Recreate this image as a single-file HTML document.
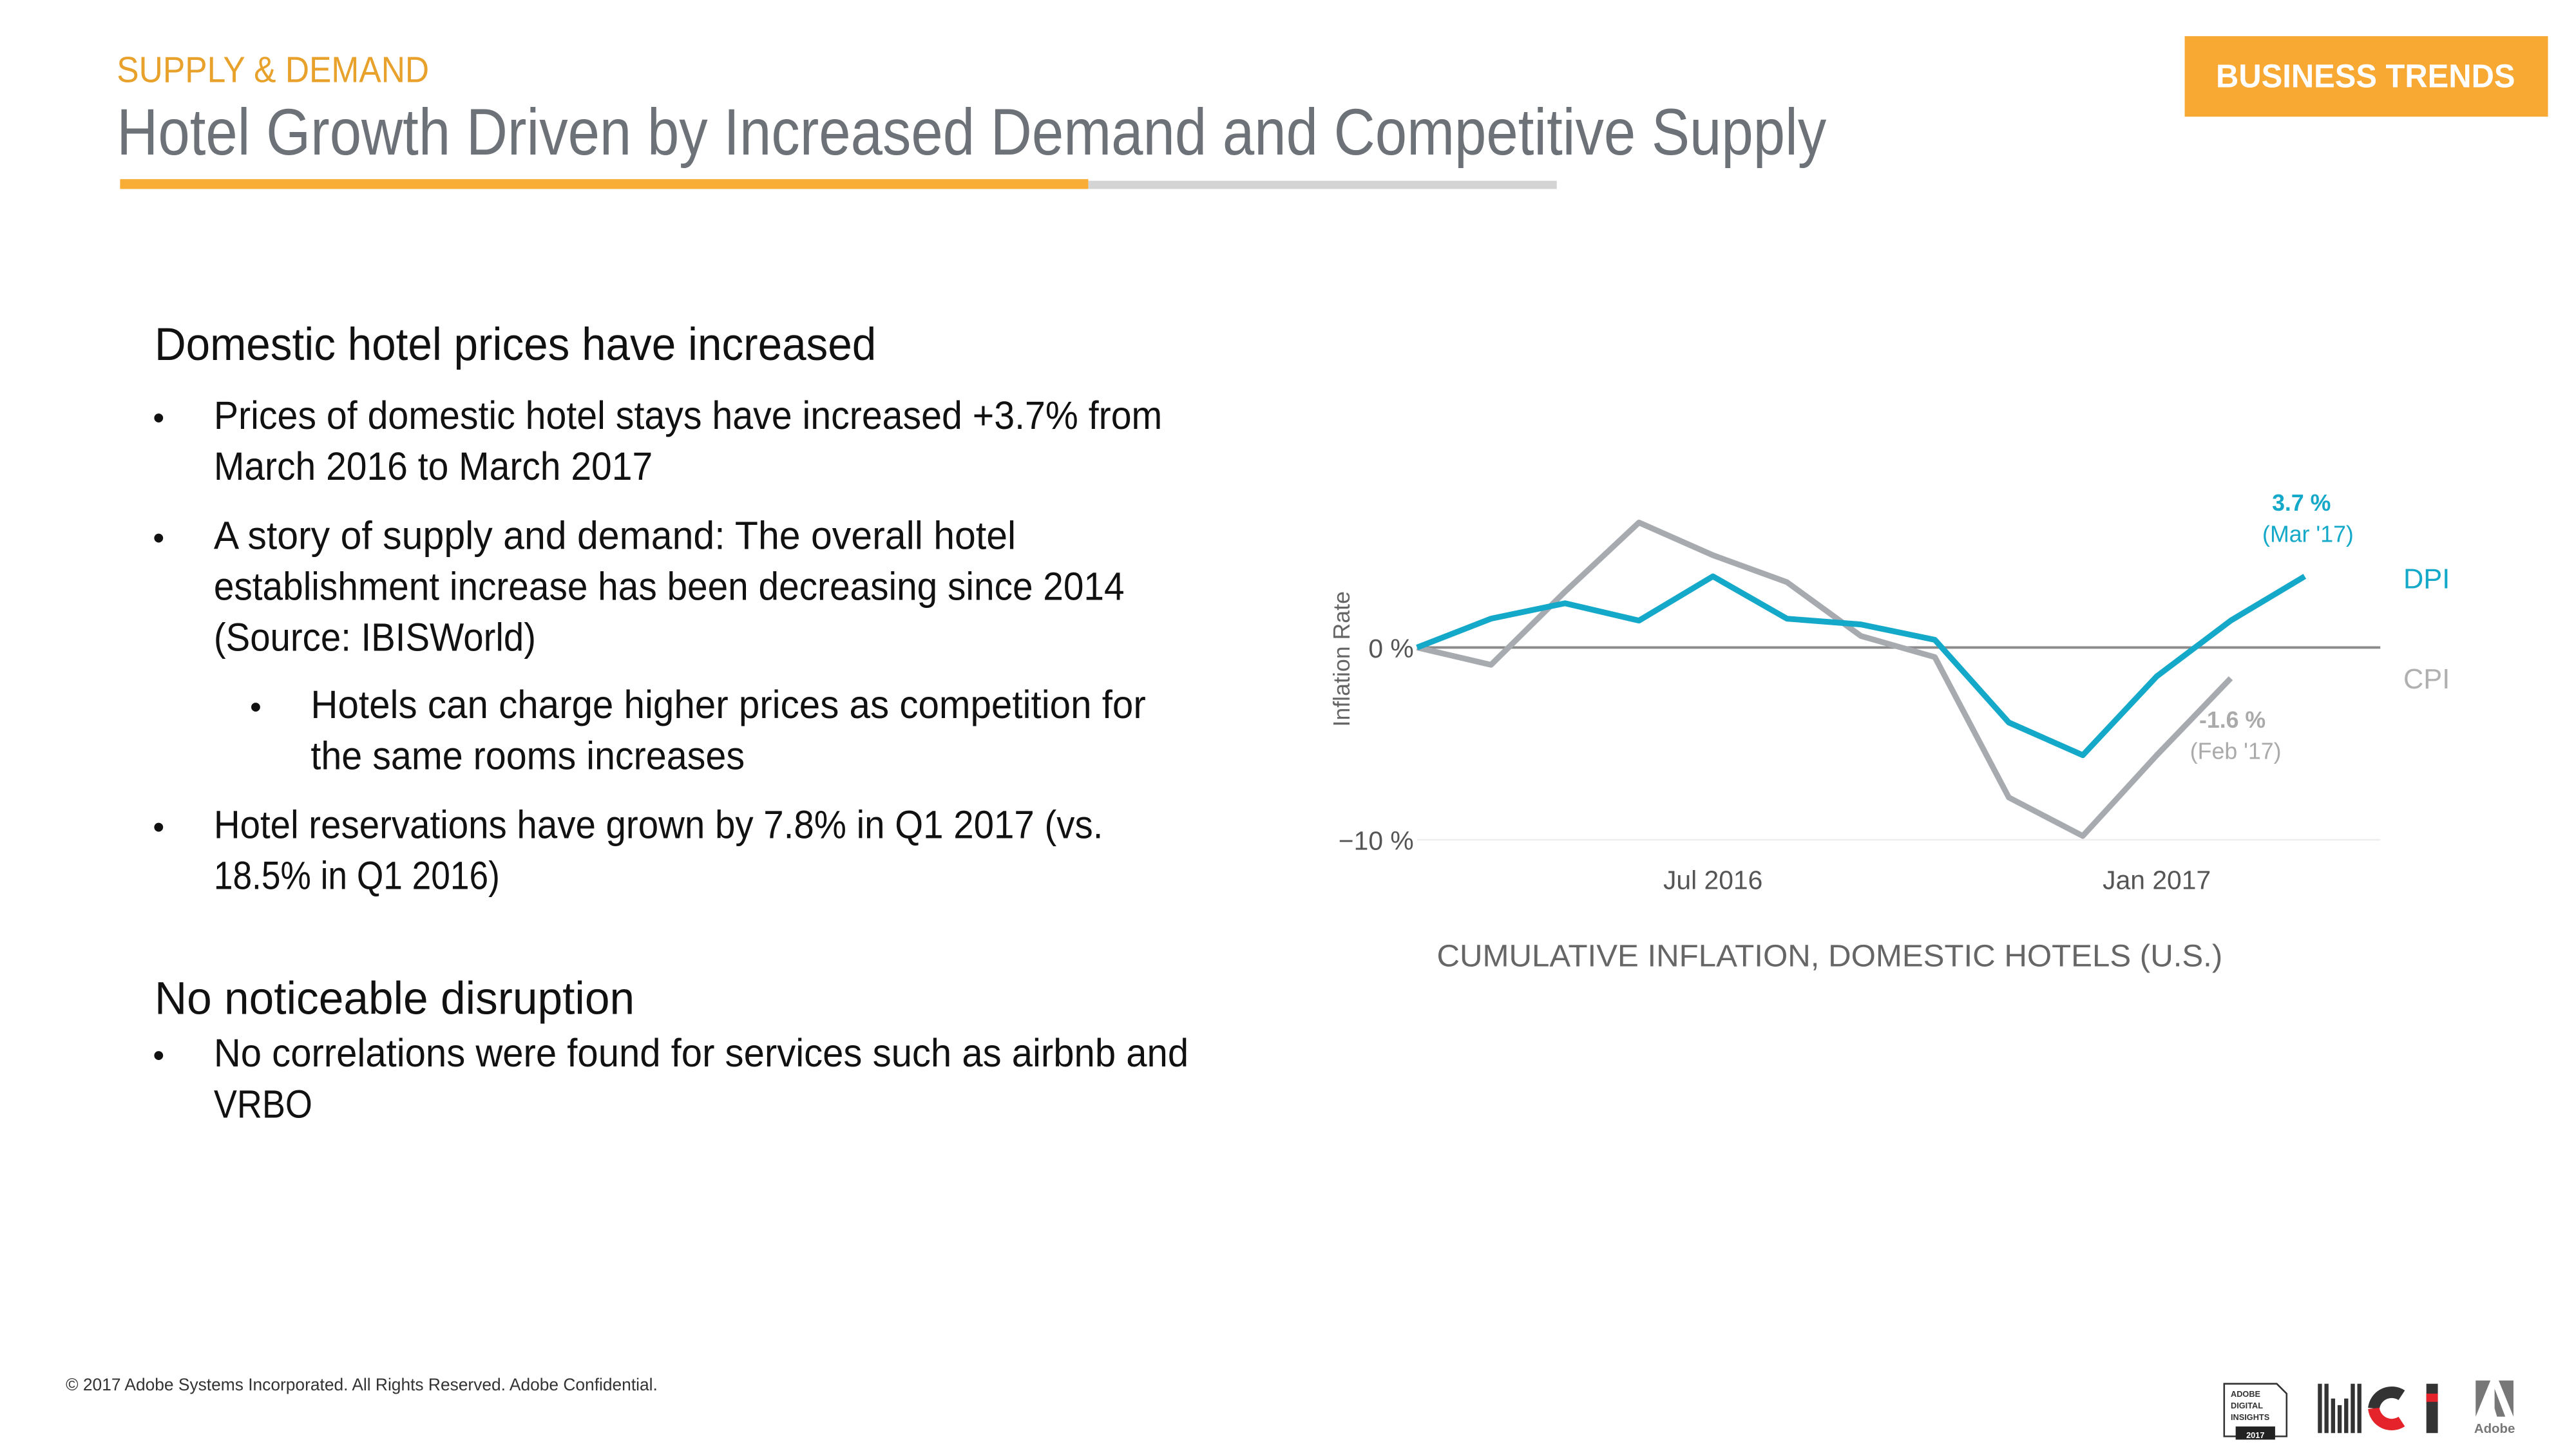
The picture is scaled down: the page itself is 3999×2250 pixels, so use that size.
<!DOCTYPE html>
<html><head><meta charset="utf-8"><style>
html,body{margin:0;padding:0;background:#fff;overflow:hidden}
svg{display:block}
</style></head><body>
<svg id="page" width="3999" height="2250" viewBox="0 0 1567 881.7" xmlns="http://www.w3.org/2000/svg" font-family="Liberation Sans, sans-serif">
<g>
<text x="71" y="50" font-size="22" fill="#e8a12a" textLength="190" lengthAdjust="spacingAndGlyphs">SUPPLY &amp; DEMAND</text>
<text x="71" y="94" font-size="40" fill="#6d7278" textLength="1040" lengthAdjust="spacingAndGlyphs">Hotel Growth Driven by Increased Demand and Competitive Supply</text>
<rect x="73" y="109" width="589" height="6" fill="#f7ad36"/>
<rect x="662" y="110" width="285" height="5" fill="#d4d4d4"/>
<rect x="1329" y="22" width="221" height="49" fill="#f7a934"/>
<text x="1439" y="53" font-size="20" font-weight="bold" fill="#fff" text-anchor="middle" textLength="182" lengthAdjust="spacingAndGlyphs">BUSINESS TRENDS</text>
</g>
<g fill="#111" font-size="24">
<text x="94" y="219" font-size="28" textLength="439" lengthAdjust="spacingAndGlyphs">Domestic hotel prices have increased</text>
<text x="93" y="261" font-size="20">•</text>
<text x="130" y="261" textLength="577" lengthAdjust="spacingAndGlyphs">Prices of domestic hotel stays have increased +3.7% from</text>
<text x="130" y="292" textLength="267" lengthAdjust="spacingAndGlyphs">March 2016 to March 2017</text>
<text x="93" y="334" font-size="20">•</text>
<text x="130" y="334" textLength="488" lengthAdjust="spacingAndGlyphs">A story of supply and demand: The overall hotel</text>
<text x="130" y="365" textLength="554" lengthAdjust="spacingAndGlyphs">establishment increase has been decreasing since 2014</text>
<text x="130" y="396" textLength="196" lengthAdjust="spacingAndGlyphs">(Source: IBISWorld)</text>
<text x="152" y="437" font-size="20">•</text>
<text x="189" y="437" textLength="508" lengthAdjust="spacingAndGlyphs">Hotels can charge higher prices as competition for</text>
<text x="189" y="468" textLength="264" lengthAdjust="spacingAndGlyphs">the same rooms increases</text>
<text x="93" y="510" font-size="20">•</text>
<text x="130" y="510" textLength="541" lengthAdjust="spacingAndGlyphs">Hotel reservations have grown by 7.8% in Q1 2017 (vs.</text>
<text x="130" y="541" textLength="174" lengthAdjust="spacingAndGlyphs">18.5% in Q1 2016)</text>
<text x="94" y="617" font-size="28" textLength="292" lengthAdjust="spacingAndGlyphs">No noticeable disruption</text>
<text x="93" y="649" font-size="20">•</text>
<text x="130" y="649" textLength="593" lengthAdjust="spacingAndGlyphs">No correlations were found for services such as airbnb and</text>
<text x="130" y="680" textLength="60" lengthAdjust="spacingAndGlyphs">VRBO</text>
</g>
<g id="chart"></g>
<text x="40" y="846" font-size="10.5" fill="#333" textLength="360" lengthAdjust="spacingAndGlyphs">© 2017 Adobe Systems Incorporated.  All Rights Reserved.  Adobe Confidential.</text>
<g>
<g>
<path d="M1353 842 H1385 L1391 848 V874 H1353 Z" fill="none" stroke="#333" stroke-width="1"/>
<text x="1357" y="850" font-size="5" font-weight="bold" fill="#333">ADOBE</text>
<text x="1357" y="857" font-size="5" font-weight="bold" fill="#333">DIGITAL</text>
<text x="1357" y="864" font-size="5" font-weight="bold" fill="#333">INSIGHTS</text>
<rect x="1360" y="868" width="24" height="8" fill="#222"/>
<text x="1372" y="875" font-size="5" font-weight="bold" fill="#fff" text-anchor="middle">2017</text>
</g>
<g>
<rect x="1410" y="842" width="2.5" height="30" fill="#333"/><rect x="1414" y="842" width="2.5" height="30" fill="#333"/>
<rect x="1418" y="851" width="2.5" height="21" fill="#333"/><rect x="1422" y="855" width="2.5" height="17" fill="#333"/>
<rect x="1426" y="851" width="2.5" height="21" fill="#333"/><rect x="1430" y="842" width="2.5" height="30" fill="#333"/>
<rect x="1434" y="842" width="2.5" height="30" fill="#333"/>
<path d="M1461 849 A11 11 0 0 0 1444 857" fill="none" stroke="#333" stroke-width="7"/>
<path d="M1444 857 A11 11 0 0 0 1461 865" fill="none" stroke="#e5232a" stroke-width="7"/>
<rect x="1476" y="842" width="7" height="30" fill="#333"/><rect x="1476" y="848" width="7" height="5" fill="#e5232a"/>
</g>
<g>
<path d="M1506 840 H1529 V862 L1520 840 H1515 L1506 862 Z" fill="#777"/>
<path d="M1517.5 845 L1524 862 H1519 L1517.5 857 Z" fill="#777"/>
<text x="1517.5" y="872" font-size="8" font-weight="bold" fill="#777" text-anchor="middle">Adobe</text>
</g>
</g>
<script>
const months = ["Mar 2016","Apr 2016","May 2016","Jun 2016","Jul 2016","Aug 2016","Sep 2016","Oct 2016","Nov 2016","Dec 2016","Jan 2017","Feb 2017","Mar 2017"];
const dpiValues = [0, 1.5, 2.3, 1.4, 3.7, 1.5, 1.2, 0.4, -3.9, -5.6, -1.5, 1.4, 3.7];
const cpiValues = [0, -0.9, 2.9, 6.5, 4.8, 3.4, 0.6, -0.5, -7.8, -9.8, -5.6, -1.6];
const yTickValues = [0, -10];
const yTickLabels = ["0 %", "\u221210 %"];
const xTickIndexes = [4, 10];
const xTickLabels = ["Jul 2016", "Jan 2017"];

const NS = "http://www.w3.org/2000/svg";
const chart = document.getElementById("chart");
const x0 = 862, dx = 45, y0 = 394, pxPerUnit = 11.7;
function xScale(i){ return x0 + i * dx; }
function yScale(v){ return y0 - v * pxPerUnit; }
function mk(tag, attrs){ const e = document.createElementNS(NS, tag); for (const k in attrs) e.setAttribute(k, attrs[k]); chart.appendChild(e); return e; }

yTickValues.forEach((v, i) => {
  const g = mk("line", {x1: 862, x2: 1448, y1: yScale(v), y2: yScale(v), stroke: v === 0 ? "#8a8a8a" : "#eeeeee", "stroke-width": v === 0 ? 1.5 : 1});
  
  
  const t = mk("text", {x: 860, y: yScale(v) + 6, "font-size": 16, fill: "#555", "text-anchor": "end"});
  t.textContent = yTickLabels[i];
  
  
});
xTickIndexes.forEach((idx, i) => {
  const t = mk("text", {x: xScale(idx), y: 541, "font-size": 16, fill: "#555", "text-anchor": "middle"});
  t.textContent = xTickLabels[i];
  
  
});
const yl = mk("text", {x: 0, y: 0, "font-size": 14, fill: "#666", "text-anchor": "middle", transform: "translate(821,401) rotate(-90)"});
yl.textContent = "Inflation Rate";



const cpiLine = mk("polyline", {points: cpiValues.map((v,i)=>xScale(i)+","+yScale(v)).join(" "), fill: "none", stroke: "#a7abb0", "stroke-width": 3.5, "stroke-linejoin": "round"});


const dpiLine = mk("polyline", {points: dpiValues.map((v,i)=>xScale(i)+","+yScale(v)).join(" "), fill: "none", stroke: "#14a8c9", "stroke-width": 3.5, "stroke-linejoin": "round"});



const dl = dpiValues.length - 1, cl = cpiValues.length - 1;
const a1 = mk("text", {x: xScale(dl) - 2, y: yScale(dpiValues[dl]) - 40, "font-size": 14, fill: "#14a8c9", "text-anchor": "middle", "font-weight": "bold"});
a1.textContent = dpiValues[dl].toFixed(1) + " %";


const a2 = mk("text", {x: xScale(dl) + 2, y: yScale(dpiValues[dl]) - 21, "font-size": 14, fill: "#14a8c9", "text-anchor": "middle"});
a2.textContent = "(Mar '17)";


const b1 = mk("text", {x: xScale(cl) + 1, y: yScale(cpiValues[cl]) + 30, "font-size": 14, fill: "#aaa", "text-anchor": "middle", "font-weight": "bold"});
b1.textContent = cpiValues[cl].toFixed(1) + " %";


const b2 = mk("text", {x: xScale(cl) + 3, y: yScale(cpiValues[cl]) + 49, "font-size": 14, fill: "#aaa", "text-anchor": "middle"});
b2.textContent = "(Feb '17)";



const ld = mk("text", {x: 1462, y: 358, "font-size": 17, fill: "#14a8c9"});
ld.textContent = "DPI";


const lc = mk("text", {x: 1462, y: 419, "font-size": 17, fill: "#b0b0b0"});
lc.textContent = "CPI";


const ct = mk("text", {x: 1113, y: 588, "font-size": 19, fill: "#666", "text-anchor": "middle", textLength: 478, lengthAdjust: "spacingAndGlyphs"});
ct.textContent = "CUMULATIVE INFLATION, DOMESTIC HOTELS (U.S.)";


</script>
</svg>
</body></html>
